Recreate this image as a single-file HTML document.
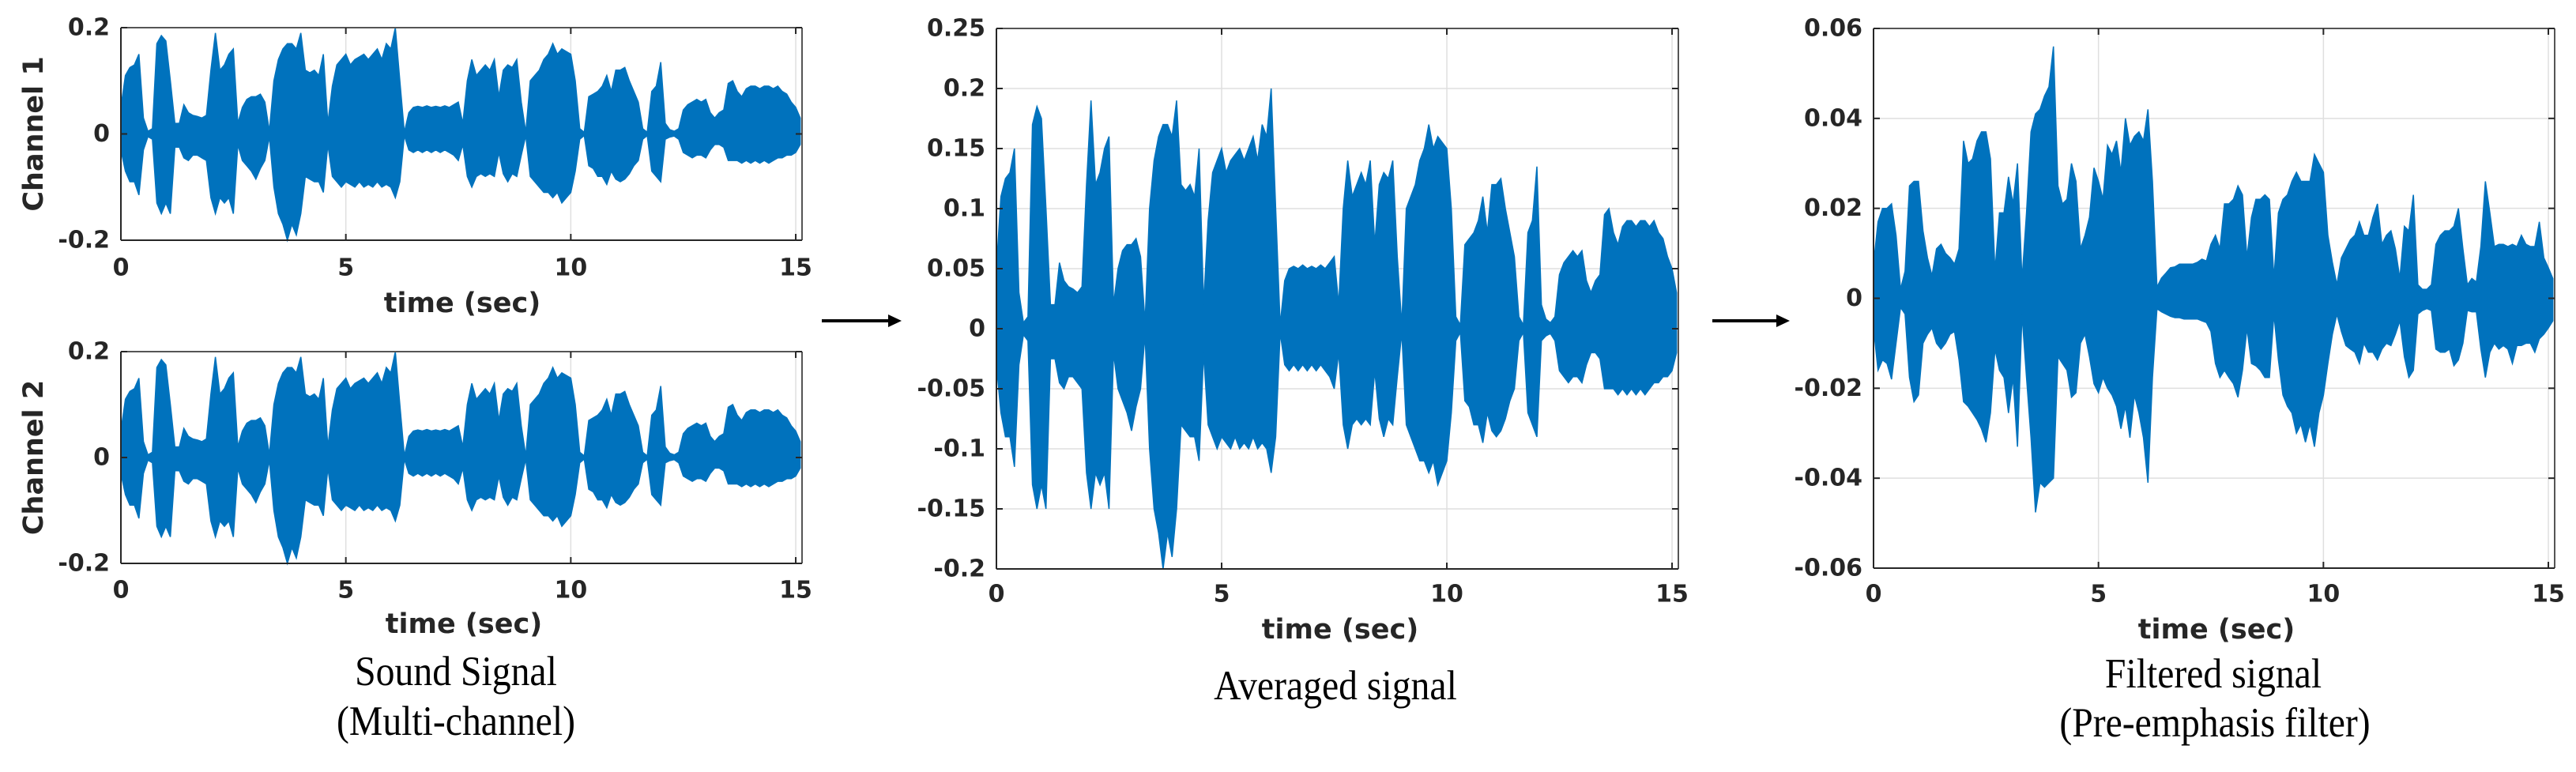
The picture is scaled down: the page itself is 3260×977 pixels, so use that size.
<!DOCTYPE html>
<html><head><meta charset="utf-8"><style>
html,body{margin:0;padding:0;background:#fff;}
svg{display:block;}
.tk{font-family:"DejaVu Sans","Liberation Sans",sans-serif;font-weight:bold;font-size:30px;fill:#262626;}
.lab{font-family:"DejaVu Sans","Liberation Sans",sans-serif;font-weight:bold;font-size:35px;fill:#262626;}
.cap{font-family:"Liberation Serif",serif;font-size:53px;fill:#000;}
</style></head><body>
<svg id="fig" width="3260" height="977" viewBox="0 0 3260 977" xmlns="http://www.w3.org/2000/svg">
<g id="layer"></g>
<line x1="1040" y1="406" x2="1128" y2="406" stroke="#000" stroke-width="4"/>
<polygon points="1141,406 1124,398 1124,414" fill="#000"/>
<line x1="2167" y1="406" x2="2252" y2="406" stroke="#000" stroke-width="4"/>
<polygon points="2265,406 2248,398 2248,414" fill="#000"/>
<g transform="translate(577,867) scale(0.9,1)"><text class="cap" text-anchor="middle">Sound Signal</text></g>
<g transform="translate(577,930) scale(0.9,1)"><text class="cap" text-anchor="middle">(Multi-channel)</text></g>
<g transform="translate(1690,885) scale(0.9,1)"><text class="cap" text-anchor="middle">Averaged signal</text></g>
<g transform="translate(2801,870) scale(0.9,1)"><text class="cap" text-anchor="middle">Filtered signal</text></g>
<g transform="translate(2803,932) scale(0.9,1)"><text class="cap" text-anchor="middle">(Pre-emphasis filter)</text></g>
</svg>
<script>
// time bins: 0.0 .. 15.1 s at 0.1 s step
const binTimes = Array.from({length:152},(_, i)=>i/10);
const xTicks = [0,5,10,15];
const xTickLabels = ["0","5","10","15"];

const avgUpper = [0.05,0.11,0.125,0.13,0.15,0.03,0.005,0.01,0.17,0.185,0.175,0.1,0.02,0.02,0.055,0.04,0.035,0.033,0.03,0.035,0.12,0.19,0.12,0.13,0.15,0.16,0.02,0.05,0.065,0.07,0.07,0.075,0.06,0.005,0.1,0.14,0.16,0.17,0.17,0.16,0.19,0.12,0.115,0.12,0.11,0.15,0.02,0.09,0.13,0.14,0.15,0.13,0.14,0.145,0.15,0.14,0.15,0.16,0.14,0.17,0.16,0.2,0.1,0.003,0.04,0.05,0.052,0.05,0.053,0.05,0.052,0.05,0.053,0.05,0.055,0.06,0.02,0.1,0.14,0.11,0.12,0.13,0.12,0.14,0.07,0.12,0.13,0.125,0.14,0.06,0.003,0.1,0.11,0.12,0.14,0.15,0.17,0.15,0.16,0.155,0.15,0.1,0.01,0.003,0.07,0.075,0.08,0.09,0.11,0.08,0.12,0.12,0.125,0.1,0.08,0.06,0.01,0.003,0.08,0.09,0.135,0.02,0.008,0.005,0.01,0.045,0.055,0.06,0.065,0.06,0.065,0.04,0.03,0.04,0.045,0.095,0.1,0.08,0.07,0.085,0.09,0.09,0.085,0.09,0.09,0.085,0.09,0.08,0.075,0.06,0.05,0.03];
const avgLower = [-0.03,-0.07,-0.09,-0.09,-0.115,-0.03,-0.005,-0.01,-0.13,-0.15,-0.13,-0.15,-0.025,-0.025,-0.045,-0.05,-0.04,-0.04,-0.045,-0.05,-0.12,-0.15,-0.12,-0.13,-0.12,-0.15,-0.02,-0.05,-0.06,-0.07,-0.085,-0.065,-0.05,-0.005,-0.1,-0.15,-0.17,-0.2,-0.17,-0.19,-0.15,-0.08,-0.085,-0.09,-0.09,-0.11,-0.02,-0.08,-0.09,-0.1,-0.09,-0.095,-0.1,-0.09,-0.1,-0.095,-0.1,-0.09,-0.1,-0.095,-0.1,-0.12,-0.09,-0.003,-0.03,-0.035,-0.03,-0.035,-0.03,-0.035,-0.03,-0.035,-0.03,-0.035,-0.04,-0.05,-0.02,-0.08,-0.1,-0.08,-0.075,-0.08,-0.075,-0.08,-0.035,-0.075,-0.09,-0.075,-0.08,-0.04,-0.003,-0.08,-0.09,-0.1,-0.11,-0.11,-0.12,-0.11,-0.13,-0.12,-0.11,-0.07,-0.01,-0.003,-0.06,-0.065,-0.08,-0.08,-0.095,-0.07,-0.085,-0.09,-0.085,-0.075,-0.06,-0.05,-0.01,-0.003,-0.07,-0.08,-0.09,-0.01,-0.006,-0.004,-0.01,-0.035,-0.04,-0.045,-0.04,-0.04,-0.045,-0.03,-0.02,-0.02,-0.025,-0.05,-0.05,-0.05,-0.055,-0.05,-0.055,-0.05,-0.055,-0.05,-0.055,-0.05,-0.045,-0.045,-0.04,-0.04,-0.035,-0.02];

const ch1Upper = [0.05,0.11,0.125,0.13,0.15,0.03,0.005,0.01,0.17,0.185,0.175,0.1,0.02,0.02,0.055,0.04,0.035,0.033,0.03,0.035,0.12,0.19,0.12,0.13,0.15,0.16,0.02,0.05,0.065,0.07,0.07,0.075,0.06,0.005,0.1,0.14,0.16,0.17,0.17,0.16,0.19,0.12,0.115,0.12,0.11,0.15,0.02,0.09,0.13,0.14,0.15,0.13,0.14,0.145,0.15,0.14,0.15,0.16,0.14,0.17,0.16,0.2,0.1,0.003,0.04,0.05,0.052,0.05,0.053,0.05,0.052,0.05,0.053,0.05,0.055,0.06,0.02,0.1,0.14,0.11,0.12,0.13,0.12,0.14,0.07,0.12,0.13,0.125,0.14,0.06,0.003,0.1,0.11,0.12,0.14,0.15,0.17,0.15,0.16,0.155,0.15,0.1,0.01,0.003,0.07,0.075,0.08,0.09,0.11,0.08,0.12,0.12,0.125,0.1,0.08,0.06,0.01,0.003,0.08,0.09,0.135,0.02,0.008,0.005,0.01,0.045,0.055,0.06,0.065,0.06,0.065,0.04,0.03,0.04,0.045,0.095,0.1,0.08,0.07,0.085,0.09,0.09,0.085,0.09,0.09,0.085,0.09,0.08,0.075,0.06,0.05,0.03];
const ch1Lower = [-0.03,-0.07,-0.09,-0.09,-0.115,-0.03,-0.005,-0.01,-0.13,-0.15,-0.13,-0.15,-0.025,-0.025,-0.045,-0.05,-0.04,-0.04,-0.045,-0.05,-0.12,-0.15,-0.12,-0.13,-0.12,-0.15,-0.02,-0.05,-0.06,-0.07,-0.085,-0.065,-0.05,-0.005,-0.1,-0.15,-0.17,-0.2,-0.17,-0.19,-0.15,-0.08,-0.085,-0.09,-0.09,-0.11,-0.02,-0.08,-0.09,-0.1,-0.09,-0.095,-0.1,-0.09,-0.1,-0.095,-0.1,-0.09,-0.1,-0.095,-0.1,-0.12,-0.09,-0.003,-0.03,-0.035,-0.03,-0.035,-0.03,-0.035,-0.03,-0.035,-0.03,-0.035,-0.04,-0.05,-0.02,-0.08,-0.1,-0.08,-0.075,-0.08,-0.075,-0.08,-0.035,-0.075,-0.09,-0.075,-0.08,-0.04,-0.003,-0.08,-0.09,-0.1,-0.11,-0.11,-0.12,-0.11,-0.13,-0.12,-0.11,-0.07,-0.01,-0.003,-0.06,-0.065,-0.08,-0.08,-0.095,-0.07,-0.085,-0.09,-0.085,-0.075,-0.06,-0.05,-0.01,-0.003,-0.07,-0.08,-0.09,-0.01,-0.006,-0.004,-0.01,-0.035,-0.04,-0.045,-0.04,-0.04,-0.045,-0.03,-0.02,-0.02,-0.025,-0.05,-0.05,-0.05,-0.055,-0.05,-0.055,-0.05,-0.055,-0.05,-0.055,-0.05,-0.045,-0.045,-0.04,-0.04,-0.035,-0.02];

const ch2Upper = [0.05,0.11,0.125,0.13,0.15,0.03,0.005,0.01,0.17,0.185,0.175,0.1,0.02,0.02,0.055,0.04,0.035,0.033,0.03,0.035,0.12,0.19,0.12,0.13,0.15,0.16,0.02,0.05,0.065,0.07,0.07,0.075,0.06,0.005,0.1,0.14,0.16,0.17,0.17,0.16,0.19,0.12,0.115,0.12,0.11,0.15,0.02,0.09,0.13,0.14,0.15,0.13,0.14,0.145,0.15,0.14,0.15,0.16,0.14,0.17,0.16,0.2,0.1,0.003,0.04,0.05,0.052,0.05,0.053,0.05,0.052,0.05,0.053,0.05,0.055,0.06,0.02,0.1,0.14,0.11,0.12,0.13,0.12,0.14,0.07,0.12,0.13,0.125,0.14,0.06,0.003,0.1,0.11,0.12,0.14,0.15,0.17,0.15,0.16,0.155,0.15,0.1,0.01,0.003,0.07,0.075,0.08,0.09,0.11,0.08,0.12,0.12,0.125,0.1,0.08,0.06,0.01,0.003,0.08,0.09,0.135,0.02,0.008,0.005,0.01,0.045,0.055,0.06,0.065,0.06,0.065,0.04,0.03,0.04,0.045,0.095,0.1,0.08,0.07,0.085,0.09,0.09,0.085,0.09,0.09,0.085,0.09,0.08,0.075,0.06,0.05,0.03];
const ch2Lower = [-0.03,-0.07,-0.09,-0.09,-0.115,-0.03,-0.005,-0.01,-0.13,-0.15,-0.13,-0.15,-0.025,-0.025,-0.045,-0.05,-0.04,-0.04,-0.045,-0.05,-0.12,-0.15,-0.12,-0.13,-0.12,-0.15,-0.02,-0.05,-0.06,-0.07,-0.085,-0.065,-0.05,-0.005,-0.1,-0.15,-0.17,-0.2,-0.17,-0.19,-0.15,-0.08,-0.085,-0.09,-0.09,-0.11,-0.02,-0.08,-0.09,-0.1,-0.09,-0.095,-0.1,-0.09,-0.1,-0.095,-0.1,-0.09,-0.1,-0.095,-0.1,-0.12,-0.09,-0.003,-0.03,-0.035,-0.03,-0.035,-0.03,-0.035,-0.03,-0.035,-0.03,-0.035,-0.04,-0.05,-0.02,-0.08,-0.1,-0.08,-0.075,-0.08,-0.075,-0.08,-0.035,-0.075,-0.09,-0.075,-0.08,-0.04,-0.003,-0.08,-0.09,-0.1,-0.11,-0.11,-0.12,-0.11,-0.13,-0.12,-0.11,-0.07,-0.01,-0.003,-0.06,-0.065,-0.08,-0.08,-0.095,-0.07,-0.085,-0.09,-0.085,-0.075,-0.06,-0.05,-0.01,-0.003,-0.07,-0.08,-0.09,-0.01,-0.006,-0.004,-0.01,-0.035,-0.04,-0.045,-0.04,-0.04,-0.045,-0.03,-0.02,-0.02,-0.025,-0.05,-0.05,-0.05,-0.055,-0.05,-0.055,-0.05,-0.055,-0.05,-0.055,-0.05,-0.045,-0.045,-0.04,-0.04,-0.035,-0.02];

const filtUpper = [0.0076,0.017,0.02,0.02,0.021,0.014,0.002,0.006,0.025,0.026,0.026,0.015,0.009,0.005,0.011,0.012,0.01,0.009,0.0076,0.011,0.035,0.03,0.031,0.035,0.037,0.037,0.031,0.006,0.019,0.019,0.027,0.021,0.03,0.004,0.019,0.037,0.041,0.042,0.045,0.047,0.056,0.025,0.021,0.022,0.03,0.026,0.011,0.014,0.018,0.029,0.026,0.022,0.034,0.032,0.035,0.028,0.04,0.034,0.036,0.037,0.035,0.042,0.026,0.0025,0.0045,0.0056,0.0068,0.007,0.0076,0.0076,0.0076,0.0076,0.008,0.0087,0.0083,0.012,0.014,0.011,0.021,0.021,0.022,0.025,0.023,0.009,0.018,0.022,0.022,0.023,0.022,0.0044,0.019,0.022,0.023,0.026,0.028,0.026,0.026,0.026,0.032,0.03,0.028,0.014,0.008,0.003,0.009,0.011,0.013,0.014,0.017,0.014,0.014,0.018,0.021,0.012,0.014,0.015,0.011,0.0044,0.016,0.015,0.023,0.003,0.002,0.002,0.003,0.012,0.014,0.015,0.015,0.016,0.02,0.011,0.003,0.0044,0.0036,0.0115,0.026,0.019,0.0115,0.012,0.012,0.0115,0.012,0.0115,0.014,0.012,0.0115,0.0115,0.017,0.009,0.0068,0.0044];
const filtLower = [-0.0066,-0.016,-0.0137,-0.0145,-0.018,-0.01,-0.002,-0.0035,-0.0176,-0.023,-0.0215,-0.01,-0.008,-0.0066,-0.01,-0.0113,-0.01,-0.008,-0.0074,-0.0137,-0.023,-0.024,-0.0255,-0.027,-0.029,-0.032,-0.0255,-0.0113,-0.016,-0.0176,-0.0255,-0.0176,-0.033,-0.0035,-0.0176,-0.031,-0.0476,-0.041,-0.042,-0.041,-0.04,-0.013,-0.0145,-0.016,-0.022,-0.021,-0.01,-0.008,-0.013,-0.019,-0.021,-0.0176,-0.02,-0.0215,-0.024,-0.029,-0.024,-0.031,-0.0215,-0.0255,-0.031,-0.041,-0.0176,-0.0023,-0.003,-0.0035,-0.004,-0.0043,-0.0043,-0.0046,-0.0046,-0.0046,-0.0046,-0.005,-0.0054,-0.0074,-0.0145,-0.0176,-0.016,-0.0176,-0.019,-0.022,-0.016,-0.0066,-0.0145,-0.015,-0.016,-0.0176,-0.0176,-0.0035,-0.0137,-0.0215,-0.024,-0.0255,-0.03,-0.028,-0.032,-0.028,-0.033,-0.0255,-0.0215,-0.0145,-0.008,-0.0035,-0.0074,-0.0105,-0.0113,-0.012,-0.0145,-0.01,-0.012,-0.012,-0.0137,-0.0113,-0.01,-0.0105,-0.008,-0.005,-0.013,-0.0176,-0.016,-0.0035,-0.0027,-0.0023,-0.0027,-0.0113,-0.012,-0.012,-0.0113,-0.015,-0.0137,-0.01,-0.0027,-0.003,-0.003,-0.0113,-0.0176,-0.012,-0.01,-0.0113,-0.0105,-0.0113,-0.0145,-0.0105,-0.0105,-0.01,-0.01,-0.012,-0.009,-0.008,-0.0066,-0.005];

const chYTicks = [-0.2,0,0.2];
const chYTickLabels = ["-0.2","0","0.2"];
const avgYTicks = [-0.2,-0.15,-0.1,-0.05,0,0.05,0.1,0.15,0.2,0.25];
const avgYTickLabels = ["-0.2","-0.15","-0.1","-0.05","0","0.05","0.1","0.15","0.2","0.25"];
const filtYTicks = [-0.06,-0.04,-0.02,0,0.02,0.04,0.06];
const filtYTickLabels = ["-0.06","-0.04","-0.02","0","0.02","0.04","0.06"];

const NS = "http://www.w3.org/2000/svg";
const layer = document.getElementById('layer');
function mk(tag, attrs, parent){
  const e = document.createElementNS(NS, tag);
  for (const k in attrs) e.setAttribute(k, attrs[k]);
  (parent||layer).appendChild(e);
  return e;
}

function drawPanel(p){
  const g = mk('g', {});
  
  
  const xMax = 15.14;
  const sx = t => p.left + (t / xMax) * (p.right - p.left);
  const sy = v => p.bottom - (v - p.yMin) / (p.yMax - p.yMin) * (p.bottom - p.top);
  mk('rect', {x:p.left, y:p.top, width:p.right-p.left, height:p.bottom-p.top, fill:'#fff'}, g);
  // grid
  xTicks.forEach(t=>{
    const l = mk('line', {x1:sx(t), x2:sx(t), y1:p.top, y2:p.bottom, stroke:'#dfdfdf', 'stroke-width':1.5}, g);
    
    
  });
  p.yTicks.forEach(v=>{
    const l = mk('line', {x1:p.left, x2:p.right, y1:sy(v), y2:sy(v), stroke:'#dfdfdf', 'stroke-width':1.5}, g);
    
    
  });
  // waveform envelope
  let pts = [];
  for (let i=0;i<binTimes.length;i++) pts.push(sx(binTimes[i]).toFixed(1)+','+sy(p.upper[i]).toFixed(1));
  for (let i=binTimes.length-1;i>=0;i--) pts.push(sx(binTimes[i]).toFixed(1)+','+sy(p.lower[i]).toFixed(1));
  const wave = mk('polygon', {points:pts.join(' '), fill:'#0072BD', stroke:'#0072BD', 'stroke-width':1.5, 'stroke-linejoin':'miter'}, g);
  
  
  // axes box
  mk('line', {x1:p.left, x2:p.right, y1:p.top, y2:p.top, stroke:'#555', 'stroke-width':2}, g);
  mk('line', {x1:p.right, x2:p.right, y1:p.top, y2:p.bottom, stroke:'#555', 'stroke-width':2}, g);
  const xa = mk('line', {x1:p.left, x2:p.right, y1:p.bottom, y2:p.bottom, stroke:'#262626', 'stroke-width':2}, g);
  
  
  const ya = mk('line', {x1:p.left, x2:p.left, y1:p.top, y2:p.bottom, stroke:'#262626', 'stroke-width':2}, g);
  
  
  // ticks and labels
  xTicks.forEach((t,i)=>{
    mk('line', {x1:sx(t), x2:sx(t), y1:p.bottom, y2:p.bottom-8, stroke:'#262626', 'stroke-width':2}, g);
    mk('line', {x1:sx(t), x2:sx(t), y1:p.top, y2:p.top+8, stroke:'#262626', 'stroke-width':2}, g);
    const tx = mk('text', {x:sx(t), y:p.xTickY, 'text-anchor':'middle', 'dominant-baseline':'central', class:'tk'}, g);
    tx.textContent = xTickLabels[i];
    
    
  });
  p.yTicks.forEach((v,i)=>{
    mk('line', {x1:p.left, x2:p.left+8, y1:sy(v), y2:sy(v), stroke:'#262626', 'stroke-width':2}, g);
    mk('line', {x1:p.right, x2:p.right-8, y1:sy(v), y2:sy(v), stroke:'#262626', 'stroke-width':2}, g);
    const tx = mk('text', {x:p.left-14, y:sy(v), 'text-anchor':'end', 'dominant-baseline':'central', class:'tk'}, g);
    tx.textContent = p.yLabels[i];
    
    
  });
  const xt = mk('text', {x:p.titleX, y:p.titleY, 'text-anchor':'middle', 'dominant-baseline':'central', class:'lab'}, g);
  xt.textContent = 'time (sec)';
  
  
  if (p.ylabel){
    const yt = mk('text', {x:0, y:0, 'text-anchor':'middle', 'dominant-baseline':'central', class:'lab',
      transform:'translate(43,'+((p.top+p.bottom)/2)+') rotate(-90)'}, g);
    yt.textContent = p.ylabel;
    
    
  }
}

drawPanel({name:'channel-1-plot', left:153, right:1015, top:35, bottom:304, yMin:-0.2, yMax:0.2,
  upper:ch1Upper, lower:ch1Lower, yTicks:chYTicks, yLabels:chYTickLabels, xTickY:339, titleX:585, titleY:384, ylabel:'Channel 1'});
drawPanel({name:'channel-2-plot', left:153, right:1015, top:445, bottom:713, yMin:-0.2, yMax:0.2,
  upper:ch2Upper, lower:ch2Lower, yTicks:chYTicks, yLabels:chYTickLabels, xTickY:747, titleX:587, titleY:790, ylabel:'Channel 2'});
drawPanel({name:'averaged-signal-plot', left:1261, right:2124, top:36, bottom:720, yMin:-0.2, yMax:0.25,
  upper:avgUpper, lower:avgLower, yTicks:avgYTicks, yLabels:avgYTickLabels, xTickY:752, titleX:1696, titleY:797});
drawPanel({name:'filtered-signal-plot', left:2371, right:3233, top:36, bottom:719, yMin:-0.06, yMax:0.06,
  upper:filtUpper, lower:filtLower, yTicks:filtYTicks, yLabels:filtYTickLabels, xTickY:752, titleX:2805, titleY:797});
</script>
</body></html>
